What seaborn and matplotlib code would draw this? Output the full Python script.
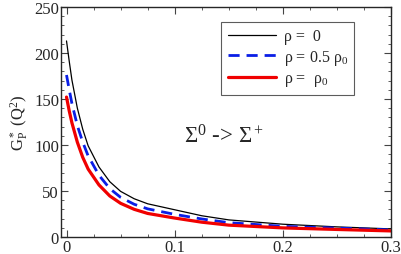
import numpy as np
import pandas as pd
import seaborn as sns
import matplotlib.pyplot as plt
from matplotlib.ticker import MultipleLocator

# Values
q2 = [0, 0.0025, 0.005, 0.01, 0.015, 0.02, 0.03, 0.04, 0.05, 0.0625, 0.075,
      0.1, 0.125, 0.15, 0.2, 0.25, 0.3]
g_rho0 = [213, 191, 170.5, 140, 117, 99, 76, 60, 49.5, 41.5, 36,
          29.5, 23, 18.5, 13.8, 10.9, 8.7]
g_rho_half = [176, 160, 145, 121, 103, 88, 67, 52.5, 43, 35.5, 30.5,
              24.5, 19.5, 15.5, 11.5, 9.6, 7.6]
g_rho_full = [152, 137, 124, 103, 86.5, 73.7, 56.5, 44.5, 36.5, 30, 25.5,
              20.5, 16, 12.8, 9.8, 8.1, 6.5]

labels = ["ρ =  0", "ρ = 0.5 ρ$_0$", "ρ =  ρ$_0$"]
xticks = [0, 0.1, 0.2, 0.3]
xticklabels = ["0", "0.1", "0.2", "0.3"]
yticks = [0, 50, 100, 150, 200, 250]

sns.set_style("ticks")
plt.rcParams["font.family"] = ["Liberation Serif", "DejaVu Serif"]
plt.rcParams["mathtext.fontset"] = "custom"
plt.rcParams["mathtext.rm"] = "Liberation Serif"
plt.rcParams["mathtext.it"] = "Liberation Serif:italic"

fig = plt.figure(figsize=(4.02, 2.55), dpi=100)
ax = fig.add_axes([0.152, 0.067, 0.821, 0.902])

df = pd.DataFrame({"q2": q2, "a": g_rho0, "b": g_rho_half, "c": g_rho_full})
sns.lineplot(data=df, x="q2", y="a", color="black", lw=0.9, label=labels[0], ax=ax)
sns.lineplot(data=df, x="q2", y="b", color="#0a1ee6", lw=2.0,
             label=labels[1], ax=ax)
ax.lines[-1].set_dashes((4, 2.5))
sns.lineplot(data=df, x="q2", y="c", color="#f00000", lw=2.3, label=labels[2], ax=ax)

ax.set_xlim(-0.005, 0.3)
ax.set_ylim(0, 250)
ax.set_xticks(xticks)
ax.set_xticklabels(xticklabels)
ax.set_yticks(yticks)
ax.xaxis.set_minor_locator(MultipleLocator(0.025))
ax.yaxis.set_minor_locator(MultipleLocator(10))
ax.tick_params(which="both", direction="in", top=True, right=True, labelsize=12,
               color="#444444", pad=1.5)
ax.tick_params(which="major", length=5)
ax.tick_params(which="minor", length=2.5)
for s in ax.spines.values():
    s.set_linewidth(1.0)

ax.set_xlabel("")
ax.set_ylabel(r"G$_\mathrm{P}^*$ (Q$^2$)", fontsize=12, labelpad=2)

ax.text(0.146, 110, r"Σ$^0$ -> Σ$^+$", fontsize=16.5, ha="center", va="center")

leg = ax.legend(loc="upper right", bbox_to_anchor=(0.888, 0.935), fontsize=11.5,
                frameon=True, fancybox=False, handlelength=3.0, borderpad=0.4,
                labelspacing=0.22, handletextpad=0.5, borderaxespad=0)
leg.get_frame().set_edgecolor("#333333")
leg.get_frame().set_linewidth(0.8)

fig.savefig("out.png", dpi=100)
